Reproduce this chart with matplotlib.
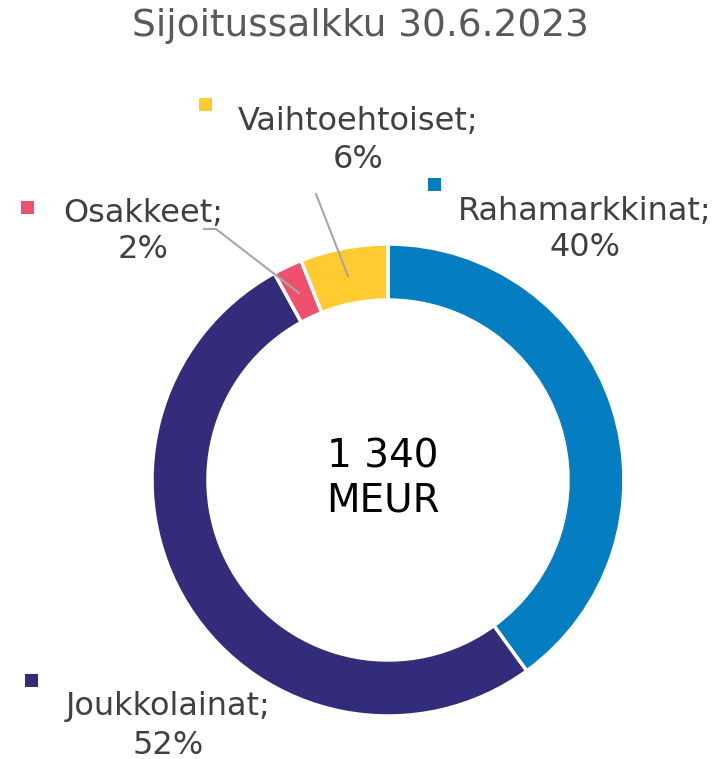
import matplotlib
matplotlib.use("Agg")
import matplotlib.pyplot as plt

title = "Sijoitussalkku 30.6.2023"
categories = ["Rahamarkkinat", "Joukkolainat", "Osakkeet", "Vaihtoehtoiset"]
shares = [40, 52, 2, 6]
colors = ["#057DC1", "#332C7A", "#EE506E", "#FFCB31"]
center_lines = ["1 340", "MEUR"]

W, H = 717, 759
fig = plt.figure(figsize=(W / 100, H / 100), dpi=100)
ax = fig.add_axes([0, 0, 1, 1])

cx, cy, R = 388, H - 480, 236
ax.pie(shares, colors=colors, startangle=90, counterclock=False,
       center=(cx, cy), radius=R, frame=True,
       wedgeprops=dict(width=56, edgecolor="white", linewidth=2.5))
ax.set_xlim(0, W)
ax.set_ylim(0, H)
ax.set_aspect("equal")
ax.axis("off")

def Y(y):
    return H - y

lab_col = "#404040"
fs = 23
ax.text(360, Y(26), title, ha="center", va="center", fontsize=27, color="#595959")
ax.text(cx - 5, Y(456), center_lines[0], ha="center", va="center", fontsize=28, color="black")
ax.text(cx - 5, Y(501), center_lines[1], ha="center", va="center", fontsize=28, color="black")

labels = {
    "Vaihtoehtoiset": (358, 121, 159, (205, 104)),
    "Osakkeet": (143, 213, 249, (27, 207)),
    "Rahamarkkinat": (585, 211, 247, (434, 184)),
    "Joukkolainat": (168, 707, 745, (31, 680)),
}
for cat, val, col in zip(categories, shares, colors):
    x, y1, y2, (mx, my) = labels[cat]
    ax.text(x, Y(y1), f"{cat};", ha="center", va="center", fontsize=fs, color=lab_col)
    ax.text(x, Y(y2), f"{val}%", ha="center", va="center", fontsize=fs, color=lab_col)
    ax.add_patch(plt.Rectangle((mx - 6.5, Y(my) - 6.5), 13, 13, color=col, lw=0))

line_col = "#A6A6A6"
ax.plot([316, 348], [Y(194), Y(276)], color=line_col, lw=1.5)
ax.plot([204, 216, 299], [Y(229), Y(229), Y(293)], color=line_col, lw=1.5)

fig.savefig("out.png", dpi=100, facecolor="white")
